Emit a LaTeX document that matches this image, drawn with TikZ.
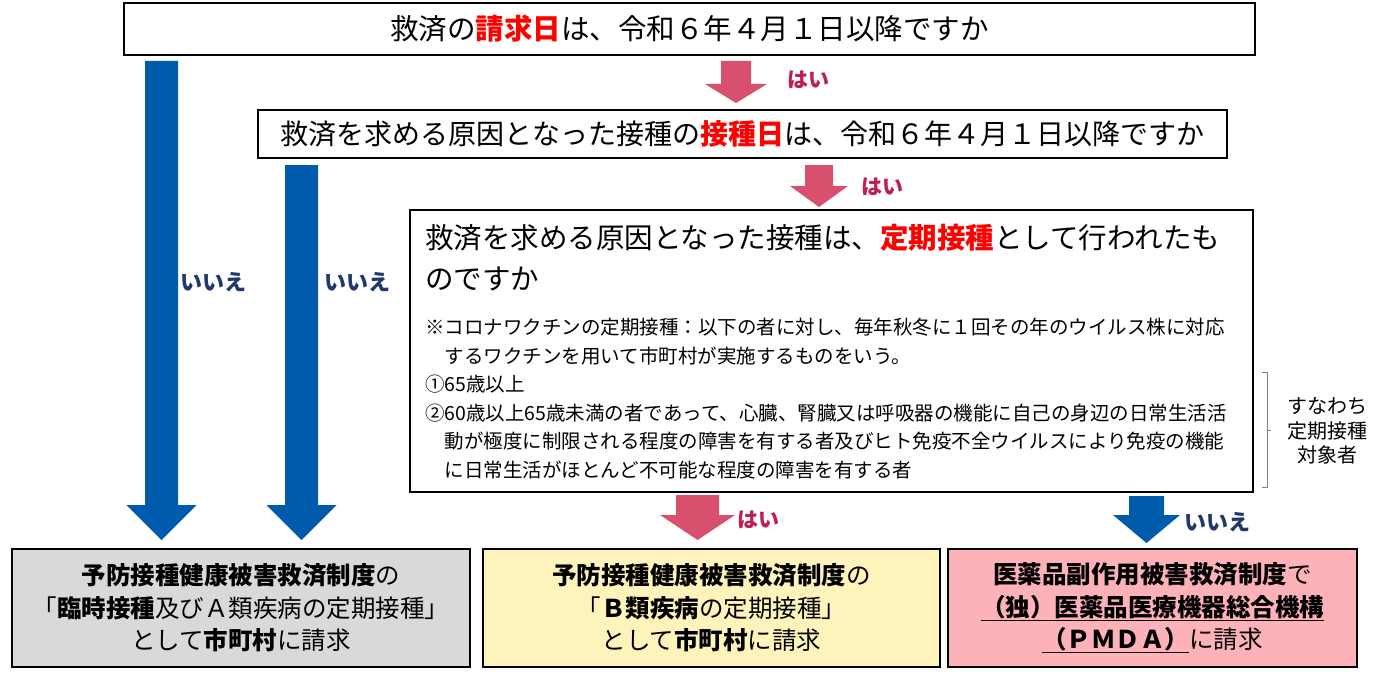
\documentclass[tikz,border=0pt]{standalone}
\usepackage{fontspec}
\setmainfont{Noto Sans CJK JP}
\usepackage{tikz}
\definecolor{arrow_pink}{RGB}{217,80,110}
\definecolor{arrow_blue}{RGB}{0,91,172}
\definecolor{text_hai}{RGB}{192,30,80}
\definecolor{text_iie}{RGB}{31,56,110}
\definecolor{fill_gray}{RGB}{217,217,217}
\definecolor{fill_yellow}{RGB}{255,243,188}
\definecolor{fill_pink}{RGB}{253,178,186}
\tikzstyle{box_question} = [rectangle, draw, line width=2pt, inner sep=0pt]
\tikzstyle{box_result} = [rectangle, draw, line width=2.4pt, inner sep=0pt, minimum height=118, align=center, font=\fontsize{24.5}{32.5}\selectfont]
\tikzstyle{label_hai} = [text=text_hai, font=\fontsize{21}{24}\selectfont\bfseries]
\tikzstyle{label_iie} = [text=text_iie, font=\fontsize{22}{26}\selectfont\bfseries]
\tikzstyle{bracket_line} = [draw=gray, line width=0.8pt]
\newcommand{\redb}[1]{\textcolor{red}{\textbf{#1}}}
% color, x, y top, y head, y tip, half shaft, half head
\newcommand{\blockarrow}[7]{\fill[#1] ({#2-#6},#3) -- ({#2+#6},#3) -- ({#2+#6},#4) -- ({#2+#7},#4) -- (#2,#5) -- ({#2-#7},#4) -- ({#2-#6},#4) -- cycle;}

\begin{document}
\begin{tikzpicture}[x=1pt,y=-1pt]
\useasboundingbox (0,0) rectangle (1381,682);

\node (Q1) at (689.5,29) [box_question, minimum width=1131, minimum height=52, font=\fontsize{28.5}{32}\selectfont] {救済の\redb{請求日}は、令和６年４月１日以降ですか};
\node (Q2) at (742.5,134) [box_question, minimum width=969, minimum height=48, font=\fontsize{28}{32}\selectfont] {救済を求める原因となった接種の\redb{接種日}は、令和６年４月１日以降ですか};
\node (Q3) at (831.5,351) [box_question, minimum width=843, minimum height=282] {};
\node (Q3_title) at (425,257.5) [anchor=west, align=left, inner sep=0pt, font=\fontsize{28.5}{41}\selectfont] {救済を求める原因となった接種は、\redb{定期接種}として行われたも\\のですか};
\node (Q3_note) at (425,398.5) [anchor=west, align=left, inner sep=0pt, font=\fontsize{19.5}{28.6}\selectfont] {※コロナワクチンの定期接種：以下の者に対し、毎年秋冬に１回その年のウイルス株に対応\\\hspace*{1em}するワクチンを用いて市町村が実施するものをいう。\\①65歳以上\\②60歳以上65歳未満の者であって、心臓、腎臓又は呼吸器の機能に自己の身辺の日常生活活\\\hspace*{1em}動が極度に制限される程度の障害を有する者及びヒト免疫不全ウイルスにより免疫の機能\\\hspace*{1em}に日常生活がほとんど不可能な程度の障害を有する者};

\draw[bracket_line] (1262,372) -- (1267,372) -- (1267,487) -- (1262,487);
\draw[bracket_line] (1267,430) -- (1271,430);
\node (target) at (1327,431) [align=center, font=\fontsize{20}{24.5}\selectfont] {すなわち\\定期接種\\対象者};

\node (R1) at (241,608) [box_result, fill=fill_gray, minimum width=458] {\textbf{予防接種健康被害救済制度}の\\「\textbf{臨時接種}及びＡ類疾病の定期接種」\\として\textbf{市町村}に請求};
\node (R2) at (711.5,608) [box_result, fill=fill_yellow, minimum width=457] {\textbf{予防接種健康被害救済制度}の\\「\textbf{Ｂ類疾病}の定期接種」\\として\textbf{市町村}に請求};
\node (R3) at (1152.5,608) [box_result, fill=fill_pink, minimum width=409] {\textbf{医薬品副作用被害救済制度}で\\\underline{\textbf{（独）医薬品医療機器総合機構}}\\\underline{\textbf{（ＰＭＤＡ）}}に請求};

\blockarrow{arrow_pink}{736}{61}{84}{103}{15}{31}
\blockarrow{arrow_pink}{819}{165}{186}{207}{14}{29}
\blockarrow{arrow_pink}{697.5}{495}{515}{540}{21.5}{37.5}
\blockarrow{arrow_blue}{161.5}{61}{505}{540}{16.5}{35}
\blockarrow{arrow_blue}{301.5}{165}{505}{540}{16.5}{35}
\blockarrow{arrow_blue}{1146.5}{496}{515}{543}{17.5}{33.5}

\node (hai1) at (808,80) [label_hai] {はい};
\node (hai2) at (882,187) [label_hai] {はい};
\node (hai3) at (758,520) [label_hai] {はい};
\node (iie1) at (213,282) [label_iie] {いいえ};
\node (iie2) at (357,282) [label_iie] {いいえ};
\node (iie3) at (1217,522) [label_iie] {いいえ};
\end{tikzpicture}
\end{document}
